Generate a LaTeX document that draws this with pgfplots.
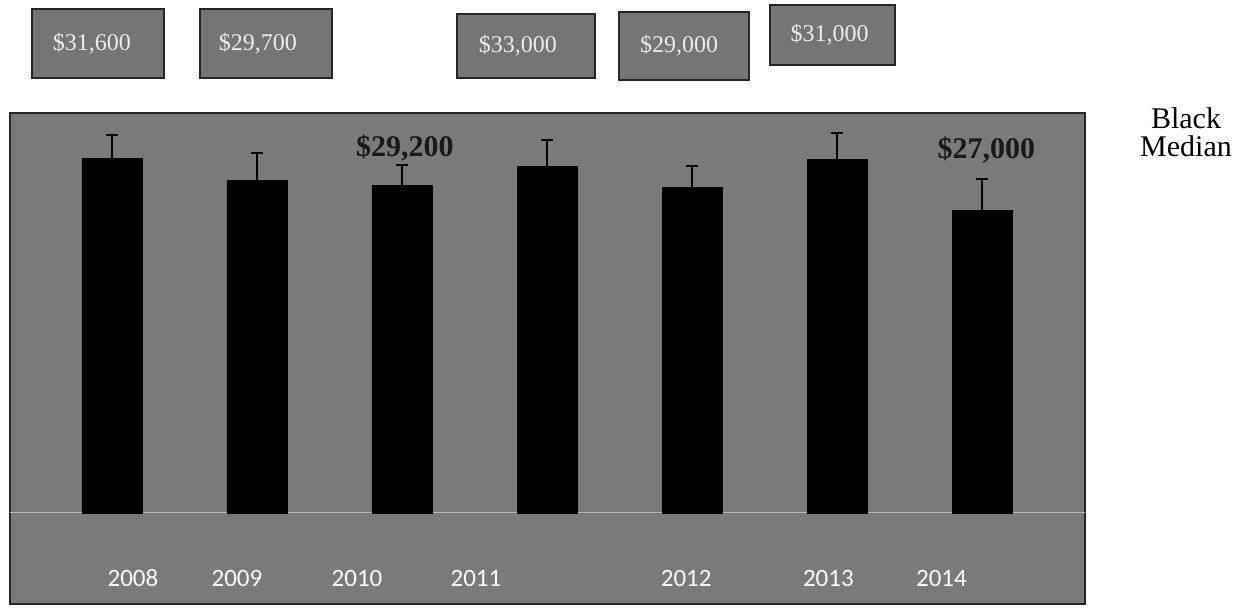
\documentclass[border=0pt]{standalone}
\usepackage{pgfplots}
\pgfplotsset{compat=1.18}
\usepackage{pgfplotstable}
\usepackage{fontspec}
\setmainfont{Liberation Serif}
\newfontfamily\carlito{Carlito}
\definecolor{plotbg}{gray}{0.48}
\definecolor{boxbg}{gray}{0.46}
\pgfplotstableread{
x y e
0 31600 2140
1 29700 2410
2 29200 1870
3 30900 2410
4 29000 1960
5 31500 2410
6 27000 2770
}\medians
\begin{document}
\begin{tikzpicture}
\useasboundingbox (0,0) rectangle (625.5pt,305pt);
\begin{axis}[
  at={(5pt,3pt)}, anchor=south west,
  scale only axis, width=537.5pt, height=245.5pt,
  xmin=-0.703, xmax=6.71, ymin=-8118, ymax=35680,
  axis background/.style={fill=plotbg},
  axis line style={black!85, line width=1.2pt},
  ytick=\empty, scaled y ticks=false,
  xtick={0.145,0.862,1.69,2.51,3.96,4.94,5.72},
  xticklabels={2008,2009,2010,2011,2012,2013,2014},
  major tick length=0pt,
  xticklabel style={anchor=center, yshift=13pt, text=white, font=\carlito\fontsize{12.5}{14}\selectfont},
  clip=false,
]
\addplot[white!45!plotbg, line width=0.5pt] coordinates {(-0.703,0) (6.71,0)};
\addplot[ybar, bar width=30pt, fill=black, draw=black, bar shift=0pt,
  error bars/.cd, y dir=plus, y explicit,
  error bar style={black, line width=1.3pt},
  error mark options={rotate=90, mark size=3pt, line width=1pt, black}]
  table[x=x, y=y, y error=e]{\medians};
\tikzset{lbox/.style={draw=black!85, line width=1pt, fill=boxbg, text=white!85!gray, font=\fontsize{12}{14}\selectfont, inner sep=0pt}}
\node[lbox, minimum width=66pt, minimum height=34.5pt] at (axis cs:-0.0966,41882) {\hspace*{-6pt}\$31,600};
\node[lbox, minimum width=66pt, minimum height=34.5pt] at (axis cs:1.062,41882) {\hspace*{-8pt}\$29,700};
\node[lbox, minimum width=69pt, minimum height=32pt] at (axis cs:2.855,41659) {\hspace*{-8pt}\$33,000};
\node[lbox, minimum width=65pt, minimum height=34pt] at (axis cs:3.945,41659) {\hspace*{-5pt}\$29,000};
\node[lbox, minimum width=62.5pt, minimum height=30pt] at (axis cs:4.969,42640) {\hspace*{-3pt}\$31,000};
\node[font=\bfseries\fontsize{15}{17}\selectfont, text=black!90] at (axis cs:2.02,32560) {\$29,200};
\node[font=\bfseries\fontsize{15}{17}\selectfont, text=black!90] at (axis cs:6.03,32380) {\$27,000};
\end{axis}
\node[font=\fontsize{15}{17}\selectfont, anchor=center] at (593pt,246pt) {Black};
\node[font=\fontsize{15}{17}\selectfont, anchor=center] at (593pt,232pt) {Median};
\end{tikzpicture}
\end{document}
